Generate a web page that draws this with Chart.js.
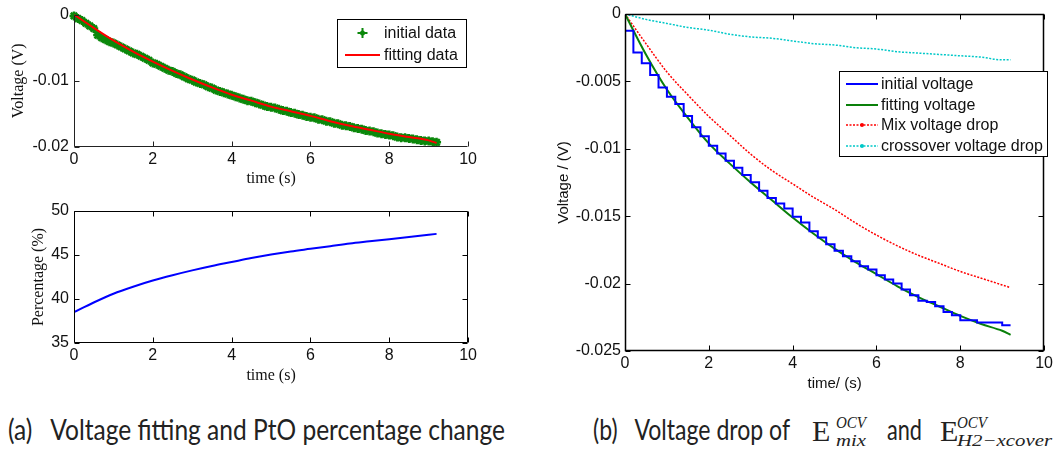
<!DOCTYPE html>
<html><head><meta charset="utf-8">
<script src="https://cdn.jsdelivr.net/npm/chart.js@4/dist/chart.umd.min.js"></script>
<style>
html,body{margin:0;padding:0;background:#fff;width:1056px;height:452px;overflow:hidden;position:relative}
canvas{position:absolute}
.cap{position:absolute;white-space:nowrap;color:#222;font-family:Lato,"Open Sans",sans-serif;font-size:28px;line-height:28px;transform-origin:0 0}
.E{position:absolute;white-space:nowrap;color:#222;font-family:"Liberation Serif","DejaVu Serif",serif;font-size:30px;line-height:30px}
.ss{position:absolute;white-space:nowrap;color:#222;font-family:"Liberation Serif","DejaVu Serif",serif;font-style:italic;font-size:17px;line-height:17px;transform-origin:0 0}
</style></head><body>
<canvas id="cA" width="480" height="192" style="left:0;top:0"></canvas>
<canvas id="cB" width="480" height="205" style="left:0;top:195px"></canvas>
<canvas id="cC" width="516" height="400" style="left:540px;top:0"></canvas>

<div class="cap" id="capA" style="left:8px;top:415px">(a)&nbsp;&nbsp;&nbsp;Voltage fitting and PtO percentage change</div>
<div class="cap" id="capB" style="left:593px;top:415px">(b)&nbsp;&nbsp;&nbsp;Voltage drop of</div>
<span class="E" style="left:812px;top:416px">E</span>
<span class="ss" id="sup1" style="left:836px;top:414px">OCV</span>
<span class="ss" id="sub1" style="left:836px;top:432px">mix</span>
<div class="cap" id="capAnd" style="left:887px;top:415px">and</div>
<span class="E" style="left:940px;top:416px">E</span>
<span class="ss" id="sup2" style="left:957px;top:414px">OCV</span>
<span class="ss" id="sub2" style="left:957px;top:432px">H2−xcover</span>

<script>
// ---------------- data ----------------
const tInit = [0,0.1,0.2,0.3,0.4,0.5,0.6,0.7,0.8,0.9,1,1.1,1.2,1.3,1.4,1.5,1.6,1.7,1.8,1.9,2,2.1,2.2,2.3,2.4,2.5,2.6,2.7,2.8,2.9,3,3.1,3.2,3.3,3.4,3.5,3.6,3.7,3.8,3.9,4,4.1,4.2,4.3,4.4,4.5,4.6,4.7,4.8,4.9,5,5.1,5.2,5.3,5.4,5.5,5.6,5.7,5.8,5.9,6,6.1,6.2,6.3,6.4,6.5,6.6,6.7,6.8,6.9,7,7.1,7.2,7.3,7.4,7.5,7.6,7.7,7.8,7.9,8,8.1,8.2,8.3,8.4,8.5,8.6,8.7,8.8,8.9,9,9.1,9.2];
const vInit = [-0.0002,-0.0006,-0.0009,-0.0013,-0.0017,-0.0021,-0.0031,-0.0035,-0.0038,-0.0041,-0.0043,-0.0046,-0.0049,-0.0052,-0.0055,-0.0058,-0.0060,-0.0063,-0.0066,-0.0069,-0.0073,-0.0075,-0.0078,-0.0081,-0.0084,-0.0086,-0.0089,-0.0091,-0.0094,-0.0097,-0.0099,-0.0102,-0.0104,-0.0106,-0.0109,-0.0111,-0.0114,-0.0116,-0.0118,-0.0120,-0.0122,-0.0124,-0.0126,-0.0128,-0.0130,-0.0131,-0.0133,-0.0135,-0.0137,-0.0139,-0.0140,-0.0141,-0.0143,-0.0145,-0.0146,-0.0148,-0.0149,-0.0151,-0.0152,-0.0154,-0.0155,-0.0156,-0.0158,-0.0159,-0.0161,-0.0162,-0.0164,-0.0165,-0.0167,-0.0168,-0.0169,-0.0171,-0.0172,-0.0173,-0.0175,-0.0176,-0.0177,-0.0179,-0.0180,-0.0181,-0.0182,-0.0183,-0.0185,-0.0186,-0.0186,-0.0187,-0.0188,-0.0189,-0.0190,-0.0191,-0.0191,-0.0192,-0.0193];
const tFitL = [0,0.5,1,1.5,2,2.5,3,3.5,4,4.5,5,5.5,6,6.5,7,7.5,8,8.5,9,9.2];
const vFitL = [0,-0.0020,-0.0039,-0.0056,-0.0071,-0.0085,-0.0098,-0.0110,-0.0121,-0.0130,-0.0139,-0.0146,-0.0153,-0.0161,-0.0168,-0.0174,-0.0180,-0.0185,-0.0190,-0.0194];

const tPct = [0,0.5,1,1.5,2,2.5,3,3.5,4,4.5,5,5.5,6,6.5,7,7.5,8,8.5,9,9.2];
const vPct = [38.5,39.6,40.6,41.4,42.1,42.7,43.25,43.75,44.2,44.65,45.05,45.4,45.7,46.0,46.3,46.55,46.8,47.05,47.3,47.4];

const tR = [0,0.5,1,1.5,2,2.5,3,3.5,4,4.5,5,5.5,6,6.5,7,7.5,8,8.5,9,9.2];
const vFitR = [0,-0.0030,-0.0056,-0.0077,-0.0096,-0.0111,-0.0125,-0.0138,-0.0151,-0.0163,-0.0174,-0.0184,-0.0193,-0.0202,-0.0210,-0.0217,-0.0224,-0.0230,-0.0235,-0.0238];
const vMix = [0,-0.0022,-0.0043,-0.0060,-0.0076,-0.0090,-0.0104,-0.0116,-0.0126,-0.0136,-0.0145,-0.0155,-0.0164,-0.0172,-0.0179,-0.0185,-0.0191,-0.0196,-0.0201,-0.0203];
const vCross = [0,-0.0004,-0.0007,-0.0010,-0.0012,-0.0015,-0.0017,-0.0018,-0.0020,-0.0022,-0.0023,-0.0025,-0.0026,-0.0028,-0.0029,-0.0030,-0.0031,-0.0032,-0.0034,-0.0034];
const tStep = [0,0,0.2,0.4,0.6,0.8,1,1.2,1.4,1.6,1.8,2,2.2,2.4,2.6,2.8,3,3.2,3.4,3.6,3.8,4,4.2,4.4,4.6,4.8,5,5.2,5.4,5.6,5.8,6,6.2,6.4,6.6,6.8,7,7.2,7.4,7.6,7.8,8,8.2,8.4,8.6,8.8,9,9.2];
const vStep = [0,-0.00124,-0.00285,-0.00366,-0.00453,-0.00545,-0.00614,-0.00668,-0.00757,-0.00841,-0.00906,-0.00978,-0.01034,-0.01088,-0.0114,-0.01195,-0.01248,-0.01312,-0.01365,-0.01406,-0.01443,-0.01505,-0.01547,-0.01611,-0.01658,-0.01708,-0.01757,-0.01797,-0.01834,-0.01871,-0.01896,-0.01938,-0.0197,-0.02,-0.02044,-0.02086,-0.02128,-0.02136,-0.02168,-0.0221,-0.02235,-0.02272,-0.02272,-0.02289,-0.02289,-0.02289,-0.02309,-0.02309];

const xTicks = [0,2,4,6,8,10];
const yTicksA = [0,-0.01,-0.02];
const yTicksB = [35,40,45,50];
const yTicksC = [0,-0.005,-0.01,-0.015,-0.02,-0.025];

// ---------------- helpers ----------------
const pts = (xs, ys) => xs.map((x, i) => ({x: x, y: ys[i]}));
const SANS = '"Liberation Sans", Arial, sans-serif';
const SERIF = '"Liberation Serif", "Times New Roman", serif';
const tickFont = {family: SANS, size: 16};

function axisX(ticks, title, titleFont, titlePad, height) {
  return {
    type: 'linear', min: 0, max: 10, position: 'bottom',
    afterBuildTicks: s => { s.ticks = ticks.map(v => ({value: v})); },
    afterFit: s => { s.height = height; },
    grid: {display: false, drawTicks: false}, border: {display: false},
    ticks: {padding: 3, color: '#111', font: tickFont, maxRotation: 0, autoSkip: false, callback: v => String(v)},
    title: {display: true, text: title, color: '#111', font: titleFont, padding: {top: 0, bottom: titlePad}}
  };
}
function axisY(min, max, ticks, title, titleFont, titlePad, width, tickPad) {
  return {
    type: 'linear', min: min, max: max, position: 'left',
    afterBuildTicks: s => { s.ticks = ticks.map(v => ({value: v})); },
    afterFit: s => { s.width = width; },
    grid: {display: false, drawTicks: false}, border: {display: false},
    ticks: {padding: tickPad, color: '#111', font: tickFont, autoSkip: false, callback: v => String(v)},
    title: {display: true, text: title, color: '#111', font: titleFont, padding: {top: titlePad, bottom: 0}}
  };
}

// frame with inward ticks (MATLAB style)
const framePlugin = {
  id: 'frame',
  afterDatasetsDraw(chart, args, o) {
    const {ctx, chartArea: a, scales: {x, y}} = chart;
    const lw = o.lw || 1, len = o.len || 5;
    const L = Math.round(a.left) + 0.5, R = Math.round(a.right) - 0.5;
    const T = Math.round(a.top) + 0.5, B = Math.round(a.bottom) - 0.5;
    ctx.save();
    ctx.strokeStyle = o.color || '#000';
    ctx.lineWidth = lw;
    ctx.beginPath();
    ctx.moveTo(L, T); ctx.lineTo(L, B); ctx.lineTo(R, B);
    if (o.box) { ctx.lineTo(R, T); ctx.lineTo(L, T); }
    ctx.stroke();
    ctx.lineWidth = 1;
    ctx.beginPath();
    x.ticks.forEach(t => {
      const px = Math.round(x.getPixelForValue(t.value)) + 0.5;
      ctx.moveTo(px, B); ctx.lineTo(px, B - len);
      if (o.box) { ctx.moveTo(px, T); ctx.lineTo(px, T + len); }
    });
    y.ticks.forEach(t => {
      const py = Math.round(y.getPixelForValue(t.value)) + 0.5;
      ctx.moveTo(L, py); ctx.lineTo(L + len, py);
      if (o.box) { ctx.moveTo(R, py); ctx.lineTo(R - len, py); }
    });
    ctx.stroke();
    ctx.restore();
  }
};

// boxed legend inside plot
const boxLegendPlugin = {
  id: 'boxLegend',
  afterDraw(chart, args, o) {
    const ctx = chart.ctx;
    ctx.save();
    ctx.fillStyle = '#fff';
    ctx.fillRect(o.x, o.y, o.w, o.h);
    ctx.strokeStyle = '#000'; ctx.lineWidth = 1;
    ctx.strokeRect(o.x + 0.5, o.y + 0.5, o.w, o.h);
    ctx.font = '16px ' + SANS;
    ctx.textBaseline = 'middle';
    o.items.forEach((idx, k) => {
      const ds = chart.data.datasets[idx];
      const cy = o.y + o.rows[k];
      const x0 = o.x + o.s0, x1 = o.x + o.s1;
      ctx.save();
      if (ds.legendKind === 'marker') {
        ctx.strokeStyle = ds.borderColor; ctx.fillStyle = ds.borderColor; ctx.lineWidth = 2;
        const cx = (x0 + x1) / 2;
        ctx.beginPath();
        ctx.moveTo(cx - 5, cy); ctx.lineTo(cx + 5, cy);
        ctx.moveTo(cx, cy - 5); ctx.lineTo(cx, cy + 5);
        ctx.stroke();
        ctx.beginPath(); ctx.arc(cx, cy, 2.5, 0, Math.PI * 2); ctx.fill();
      } else {
        ctx.strokeStyle = ds.borderColor;
        ctx.lineWidth = ds.borderWidth;
        ctx.setLineDash(ds.borderDash || []);
        ctx.beginPath(); ctx.moveTo(x0, cy); ctx.lineTo(x1, cy); ctx.stroke();
        if (ds.legendKind === 'dotmark') {
          ctx.setLineDash([]);
          ctx.fillStyle = ds.borderColor;
          ctx.beginPath(); ctx.arc((x0 + x1) / 2, cy, 2, 0, Math.PI * 2); ctx.fill();
        }
      }
      ctx.restore();
      ctx.fillStyle = '#111';
      ctx.fillText(ds.label, o.x + o.tx, cy + 1);
    });
    ctx.restore();
  }
};

const base = {responsive: false, animation: false, events: []};

// ---------------- chart A ----------------
new Chart(document.getElementById('cA'), {
  type: 'line',
  data: {datasets: [
    {label: 'fitting data', data: pts(tFitL, vFitL), borderColor: '#ff0000', borderWidth: 2, pointRadius: 0, tension: 0.4, cubicInterpolationMode: 'monotone', legendKind: 'line'},
    {label: 'initial data', data: pts(tInit, vInit), showLine: false, borderColor: '#0b880b', backgroundColor: '#0b880b', pointStyle: 'star', pointRadius: 4.5, pointBorderWidth: 2.5, clip: false, legendKind: 'marker'}
  ]},
  options: Object.assign({}, base, {
    layout: {padding: {left: 0, right: 10, top: 14, bottom: 0}},
    scales: {
      x: axisX(xTicks, 'time (s)', {family: SERIF, size: 16}, 3.4, 45),
      y: axisY(-0.02, 0, yTicksA, 'Voltage (V)', {family: SERIF, size: 16}, 9.4, 74, 5)
    },
    plugins: {
      legend: {display: false}, tooltip: {enabled: false},
      frame: {box: false, len: 5, lw: 1, color: '#222'},
      boxLegend: {x: 337, y: 19, w: 129, h: 48, s0: 8, s1: 43, tx: 47, rows: [14, 36], items: [1, 0]}
    }
  }),
  plugins: [framePlugin, boxLegendPlugin]
});

// ---------------- chart B ----------------
new Chart(document.getElementById('cB'), {
  type: 'line',
  data: {datasets: [
    {label: 'PtO percentage', data: pts(tPct, vPct), borderColor: '#0000ff', borderWidth: 2, pointRadius: 0, tension: 0.4, cubicInterpolationMode: 'monotone'}
  ]},
  options: Object.assign({}, base, {
    layout: {padding: {left: 0, right: 10, top: 16, bottom: 0}},
    scales: {
      x: axisX(xTicks, 'time (s)', {family: SERIF, size: 16}, 14.4, 57),
      y: axisY(35, 50, yTicksB, 'Percentage (%)', {family: SERIF, size: 16}, 28.7, 74, 5)
    },
    plugins: {
      legend: {display: false}, tooltip: {enabled: false},
      frame: {box: true, len: 5, lw: 1, color: '#000'}
    }
  }),
  plugins: [framePlugin]
});

// ---------------- chart C ----------------
new Chart(document.getElementById('cC'), {
  type: 'line',
  data: {datasets: [
    {label: 'initial voltage', data: pts(tStep, vStep), borderColor: '#0000ff', borderWidth: 2, pointRadius: 0, stepped: 'before', legendKind: 'line'},
    {label: 'fitting voltage', data: pts(tR, vFitR), borderColor: '#0a800a', borderWidth: 2, pointRadius: 0, tension: 0.4, cubicInterpolationMode: 'monotone', legendKind: 'line'},
    {label: 'Mix voltage drop', data: pts(tR, vMix), borderColor: '#ff0000', borderWidth: 1.5, borderDash: [2, 1.5], pointRadius: 0, tension: 0.4, cubicInterpolationMode: 'monotone', legendKind: 'dotmark'},
    {label: 'crossover voltage drop', data: pts(tR, vCross), borderColor: '#00c8c8', borderWidth: 1.5, borderDash: [2, 1.5], pointRadius: 0, tension: 0.4, cubicInterpolationMode: 'monotone', legendKind: 'dotmark'}
  ]},
  options: Object.assign({}, base, {
    layout: {padding: {left: 0, right: 9, top: 14, bottom: 0}},
    scales: {
      x: axisX(xTicks, 'time/ (s)', {family: SANS, size: 15}, 7.5, 49),
      y: axisY(-0.025, 0, yTicksC, 'Voltage / (V)', {family: SANS, size: 15}, 14.5, 85, 4)
    },
    plugins: {
      legend: {display: false}, tooltip: {enabled: false},
      frame: {box: true, len: 5, lw: 1.5, color: '#000'},
      boxLegend: {x: 299, y: 71, w: 208, h: 85, s0: 7, s1: 39, tx: 42, rows: [13, 34, 54, 75], items: [0, 1, 2, 3]}
    }
  }),
  plugins: [framePlugin, boxLegendPlugin]
});

// ---------------- caption width fitting ----------------
function fitW(id, w) {
  const el = document.getElementById(id);
  const cw = el.getBoundingClientRect().width;
  if (cw > 0) el.style.transform = 'scaleX(' + (w / cw) + ')';
}
fitW('capA', 497);
fitW('capB', 197);
fitW('capAnd', 35);
fitW('sup1', 30);
fitW('sub1', 30);
fitW('sup2', 30);
fitW('sub2', 95);
</script>
</body></html>
